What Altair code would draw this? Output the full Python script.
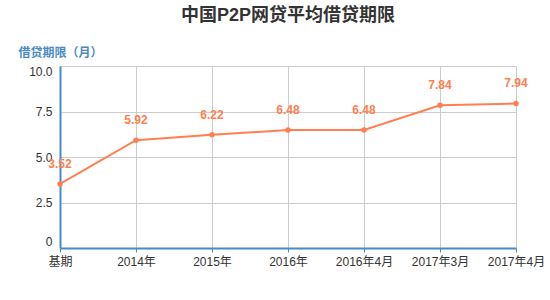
import altair as alt
import pandas as pd

periods = ["基期", "2014年", "2015年", "2016年", "2016年4月", "2017年3月", "2017年4月"]
values = [3.52, 5.92, 6.22, 6.48, 6.48, 7.84, 7.94]
y_ticks = [0, 2.5, 5, 7.5, 10]

df = pd.DataFrame({"period": periods, "value": values})
df["label"] = [f"{v:.2f}" for v in values]

FONT = "Liberation Sans, Noto Sans CJK SC"
BLUE = "#4a8ac4"
CORAL = "#ff7f50"

x = alt.X("period:N", sort=periods, title=None,
          scale=alt.Scale(padding=0),
          axis=alt.Axis(labelAngle=0, domainColor=BLUE, domainWidth=2,
                        tickColor=BLUE, tickSize=4, labelColor="#333",
                        labelFontSize=12, labelFont=FONT, grid=True,
                        gridColor="#cccccc", labelPadding=4))
y = alt.Y("value:Q", scale=alt.Scale(domain=[0, 10], nice=False),
          axis=alt.Axis(values=y_ticks, title="借贷期限（月）",
                        labelExpr="datum.value == 0 ? '0' : format(datum.value, '.1f')",
                        labelFlush=True,
                        titleAngle=0, titleX=-42, titleY=-14, titleAlign="left",
                        titleBaseline="middle",
                        titleColor=BLUE, titleFontSize=12, titleFontWeight="bold",
                        titleFont=FONT, domainColor=BLUE, domainWidth=2,
                        ticks=False, labelPadding=8, labelColor="#333",
                        labelFontSize=12, labelFont=FONT, gridColor="#cccccc"))

base = alt.Chart(df).encode(x=x, y=y)
line = base.mark_line(color=CORAL, strokeWidth=2)
pts = base.mark_circle(color=CORAL, size=30, opacity=1)
txt = base.mark_text(color=CORAL, dy=-20, fontSize=12, fontWeight="bold",
                     font=FONT).encode(text="label:N")

chart = (line + pts + txt).properties(
    width=456, height=182,
    title=alt.TitleParams("中国P2P网贷平均借贷期限", fontSize=18, fontWeight="bold",
                          color="#333", font=FONT, anchor="middle", offset=21),
    autosize=alt.AutoSizeParams(type="none"),
    padding={"left": 60, "top": 66, "right": 34, "bottom": 52},
).configure_view(stroke=None)

chart.save("out.html", embed_options={"renderer": "svg", "actions": False})
